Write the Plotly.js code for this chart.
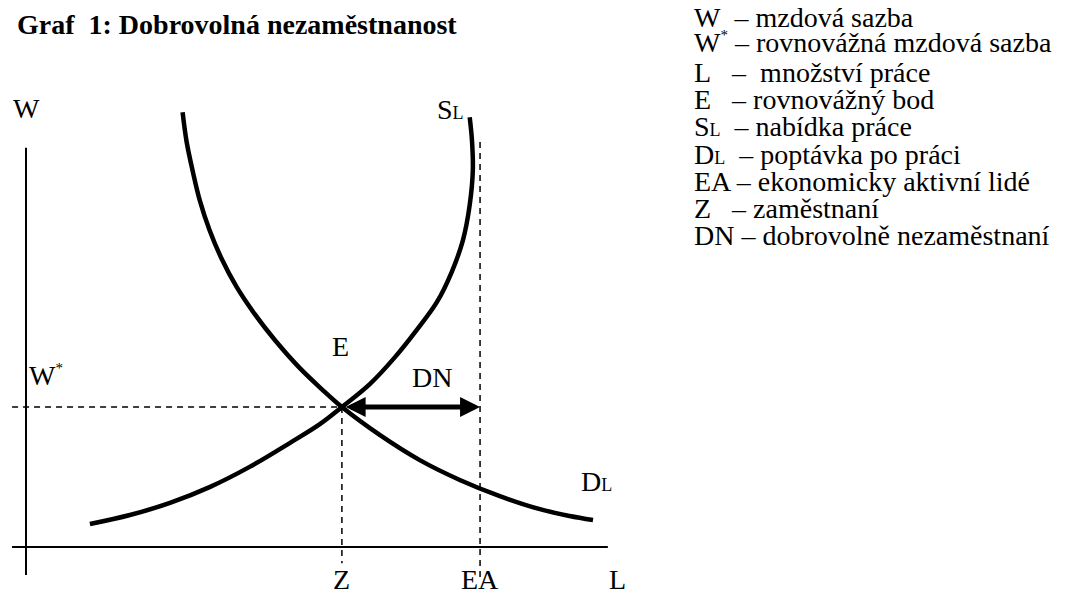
<!DOCTYPE html>
<html>
<head>
<meta charset="utf-8">
<script src="https://cdn.plot.ly/plotly-3.0.1.min.js"></script>
<style>
  html, body { margin: 0; padding: 0; background: #fff; }
  #graf { width: 1067px; height: 590px; }
</style>
</head>
<body>
<div id="graf"></div>
<script>
// labour market: L = quantity of labour, W = wage rate (arbitrary units)
var supplyL = [1.42, 2.31, 3.2, 4.08, 4.97, 5.86, 6.53, 7.02, 7.64, 8.2, 8.68, 9.13, 9.46, 9.71, 9.86, 9.93, 9.91, 9.86];
var supplyW = [0.51, 0.71, 0.98, 1.33, 1.78, 2.31, 2.73, 3.11, 3.62, 4.22, 4.82, 5.44, 6.11, 6.82, 7.6, 8.38, 9.04, 9.55];
var demandL = [3.48, 3.57, 3.71, 3.86, 4.08, 4.35, 4.68, 5.08, 5.53, 6.08, 6.57, 7.02, 7.86, 8.75, 9.64, 10.53, 11.42, 12.08, 12.6];
var demandW = [9.66, 9.0, 8.33, 7.71, 7.04, 6.4, 5.78, 5.18, 4.6, 3.98, 3.51, 3.11, 2.49, 1.93, 1.49, 1.13, 0.84, 0.69, 0.6];
var zL = 7.02;       // employed
var eaL = 10.09;     // economically active
var wStar = 3.11;    // equilibrium wage
var axisL = [-0.31, 12.93];
var axisW = [-0.62, 8.87];
var eaTop = 9.0;
var zBottom = -0.36;
var eaBottom = -0.75;

var star = '<sup><span style="font-size:15px">*</span></sup>';
var legendLines = [
  'W&nbsp;&nbsp;– mzdová sazba',
  'W' + star + ' – rovnovážná mzdová sazba',
  'L&nbsp;&nbsp;&nbsp;–&nbsp; množství práce',
  'E&nbsp;&nbsp;&nbsp;– rovnovážný bod',
  'S<span style="font-size:18px">L</span>&nbsp;&nbsp;– nabídka práce',
  'D<span style="font-size:18px">L</span>&nbsp;&nbsp;– poptávka po práci',
  'EA – ekonomicky aktivní lidé',
  'Z&nbsp;&nbsp;&nbsp;– zaměstnaní',
  'DN – dobrovolně nezaměstnaní'
];

// page pixel -> data units (45 px per unit, origin at 26,547)
function toX(px) { return (px - 26) / 45; }
function toY(py) { return (547 - py) / 45; }
function pxX(l) { return 26 + 45 * l; }

var blk = '#000';
var dash = '6px,5px';
var serif = '"Liberation Serif", "Times New Roman", Times, serif';

var traces = [
  { x: [axisL[0], axisL[1]], y: [0, 0], mode: 'lines', line: {color: blk, width: 2} },
  { x: [0, 0], y: [axisW[0], axisW[1]], mode: 'lines', line: {color: blk, width: 2} },
  { x: [axisL[0], zL], y: [wStar, wStar], mode: 'lines', line: {color: blk, width: 1.5, dash: dash} },
  { x: [zL, zL], y: [wStar, zBottom], mode: 'lines', line: {color: blk, width: 1.5, dash: dash} },
  { x: [eaL, eaL], y: [eaTop, eaBottom], mode: 'lines', line: {color: blk, width: 1.5, dash: dash} },
  { x: supplyL, y: supplyW, mode: 'lines', line: {color: blk, width: 4.5, shape: 'spline'} },
  { x: demandL, y: demandW, mode: 'lines', line: {color: blk, width: 4.5, shape: 'spline'} }
];

var f = {family: serif, size: 28, color: blk};
function lab(text, px, py, anchor) {
  // a superscript makes the box taller, so lift it back
  if (text.indexOf('<sup>') >= 0) py -= 2;
  return { text: text, x: toX(px), y: toY(py), xref: 'x', yref: 'y', showarrow: false,
           xanchor: anchor || 'center', yanchor: 'middle', font: f };
}

var annotations = [
  lab('W', 26, 108),
  lab('S<span style="font-size:18px">L</span>', 450, 109),
  lab('E', 340, 346),
  lab('W' + star, 46, 377),
  lab('DN', 432, 377),
  lab('D<span style="font-size:18px">L</span>', 596, 481),
  lab('Z', pxX(zL), 579),
  lab('EA', pxX(eaL), 579),
  lab('L', 617, 579),
  // DN double arrow
  { x: eaL, y: wStar, ax: zL + 0.05, ay: wStar, xref: 'x', yref: 'y', axref: 'x', ayref: 'y',
    text: '', showarrow: true, arrowhead: 2, startarrowhead: 2, arrowside: 'end+start',
    arrowsize: 0.8, startarrowsize: 0.8, arrowwidth: 5, arrowcolor: blk, standoff: 0, startstandoff: 0 }
];

legendLines.forEach(function (t, i) {
  annotations.push(lab(t, 692, 17.5 + 27.3 * i, 'left'));
});

var layout = {
  width: 1067, height: 590,
  margin: {l: 0, r: 0, t: 0, b: 0},
  paper_bgcolor: '#fff', plot_bgcolor: '#fff',
  showlegend: false,
  font: {family: serif},
  title: {
    text: '<b>Graf&nbsp; 1: Dobrovolná nezaměstnanost</b>',
    x: 17 / 1067, xanchor: 'left', y: 1 - 24 / 590, yanchor: 'middle',
    font: {family: serif, size: 28, color: blk}
  },
  xaxis: { range: [toX(0), toX(1067)], visible: false, fixedrange: true },
  yaxis: { range: [toY(590), toY(0)], visible: false, fixedrange: true },
  annotations: annotations
};

Plotly.newPlot('graf', traces, layout, {displayModeBar: false, staticPlot: true});
</script>
</body>
</html>
